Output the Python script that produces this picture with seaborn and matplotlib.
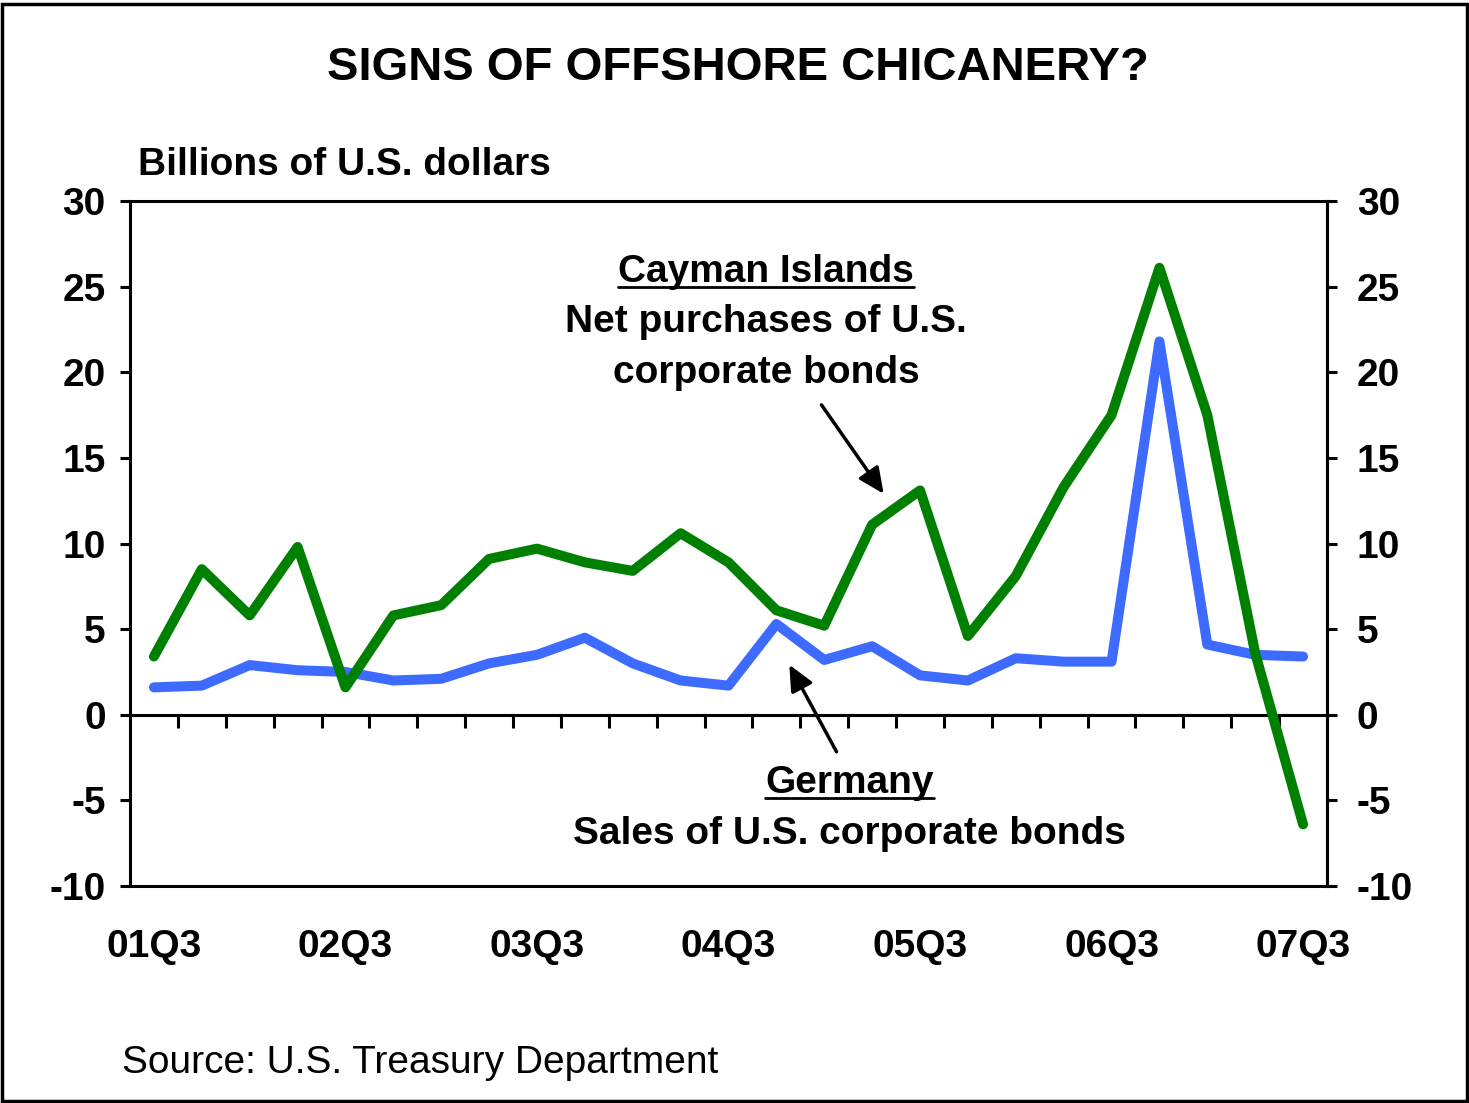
import numpy as np
import pandas as pd
import matplotlib
matplotlib.use("Agg")
import matplotlib.pyplot as plt
import seaborn as sns
from matplotlib.patches import Rectangle
from matplotlib.lines import Line2D

# ---- data ----
quarters = ["01Q3", "01Q4", "02Q1", "02Q2", "02Q3", "02Q4", "03Q1", "03Q2", "03Q3",
            "03Q4", "04Q1", "04Q2", "04Q3", "04Q4", "05Q1", "05Q2", "05Q3", "05Q4",
            "06Q1", "06Q2", "06Q3", "06Q4", "07Q1", "07Q2", "07Q3"]
cayman = [3.4, 8.5, 5.8, 9.8, 1.6, 5.8, 6.4, 9.1, 9.7, 8.9, 8.4, 10.6, 8.9, 6.1,
          5.2, 11.1, 13.1, 4.6, 8.1, 13.3, 17.5, 26.1, 17.5, 3.6, -6.4]
germany = [1.6, 1.7, 2.9, 2.6, 2.5, 2.0, 2.1, 3.0, 3.5, 4.5, 3.0, 2.0, 1.7, 5.3,
           3.2, 4.0, 2.3, 2.0, 3.3, 3.1, 3.1, 21.8, 4.1, 3.5, 3.4]
xtick_labels = ["01Q3", "02Q3", "03Q3", "04Q3", "05Q3", "06Q3", "07Q3"]
yticks = [-10, -5, 0, 5, 10, 15, 20, 25, 30]

df = pd.DataFrame({"idx": np.arange(len(quarters)), "quarter": quarters,
                   "Cayman Islands": cayman, "Germany": germany})

# ---- style ----
sns.set_theme(style="white")
plt.rcParams["font.family"] = ["Liberation Sans", "DejaVu Sans"]
for k in ["text.color", "axes.labelcolor", "xtick.color", "ytick.color", "axes.edgecolor"]:
    plt.rcParams[k] = "black"

W, H = 1469, 1103
fig = plt.figure(figsize=(W / 100, H / 100), dpi=100)
ax = fig.add_axes([130 / W, 1 - 886 / H, (1327 - 130) / W, (886 - 201) / H])

GREEN = "#008000"
BLUE = "#3D6BFF"
lw = 7.2
sns.lineplot(data=df, x="idx", y="Germany", ax=ax, color=BLUE, linewidth=lw,
             solid_capstyle="round", solid_joinstyle="round")
sns.lineplot(data=df, x="idx", y="Cayman Islands", ax=ax, color=GREEN, linewidth=lw,
             solid_capstyle="round", solid_joinstyle="round")

ax.set_xlim(-0.5, 24.5)
ax.set_ylim(-10, 30)
ax.set_xlabel("")
ax.set_ylabel("")
ax.grid(False)

for s in ax.spines.values():
    s.set_visible(True)
    s.set_color("black")
    s.set_linewidth(2.2)

FS = 28
# x labels (no tick marks on bottom spine)
xpos = [quarters.index(q) for q in xtick_labels]
ax.set_xticks(xpos)
ax.set_xticklabels(xtick_labels, fontsize=FS, fontweight="bold", color="black")
ax.tick_params(axis="x", length=0, pad=31)

# left y ticks
ax.set_yticks(yticks)
ax.set_yticklabels([str(v) for v in yticks], fontsize=FS, fontweight="bold", color="black")
ax.tick_params(axis="y", direction="out", length=7.5, width=2.2, color="black",
               left=True, right=False, labelleft=True, labelright=False, pad=10)

# right y ticks
rax = ax.secondary_yaxis("right")
rax.set_yticks(yticks)
rax.set_yticklabels([str(v) for v in yticks], fontsize=FS, fontweight="bold", color="black")
rax.tick_params(axis="y", direction="out", length=7.5, width=2.2, color="black", pad=14)
for s in rax.spines.values():
    s.set_linewidth(2.2)
    s.set_color("black")

# zero line with downward ticks between quarters
zero_ax = ax.secondary_xaxis((0 - (-10)) / 40)
zero_ax.set_xticks(np.arange(0.5, 24, 1.0))
zero_ax.tick_params(axis="x", direction="out", length=9, width=2.2, color="black",
                    labelbottom=False, labeltop=False)
zero_ax.xaxis.set_ticklabels([])
for s in zero_ax.spines.values():
    s.set_linewidth(2.2)
    s.set_color("black")

# ---- annotations ----
def px2data(px, py):
    return ((px - 155) / 47.7, (715 - py) / 17.13)

fig.canvas.draw()
renderer = fig.canvas.get_renderer()

def underlined(px, py, txt):
    x, y = px2data(px, py)
    t = ax.text(x, y, txt, fontsize=FS, fontweight="bold", ha="center", va="center")
    bb = t.get_window_extent(renderer=renderer)
    yline = (bb.y0 + 3) / H
    fig.add_artist(Line2D([bb.x0 / W, bb.x1 / W], [yline, yline],
                          transform=fig.transFigure, color="black", lw=2.0))

def plain(px, py, txt):
    x, y = px2data(px, py)
    ax.text(x, y, txt, fontsize=FS, fontweight="bold", ha="center", va="center")

underlined(765, 272, "Cayman Islands")
plain(765, 322, "Net purchases of U.S.")
plain(765, 373, "corporate bonds")
underlined(848, 783, "Germany")
plain(848, 834, "Sales of U.S. corporate bonds")

arrowprops = dict(arrowstyle="-|>,head_length=1.3,head_width=0.6", color="black",
                  lw=2.5, shrinkA=0, shrinkB=0)
ax.annotate("", xy=px2data(882, 494), xytext=px2data(820, 405), arrowprops=arrowprops)
ax.annotate("", xy=px2data(788, 665), xytext=px2data(835, 752), arrowprops=arrowprops)

# ---- titles / notes ----
fig.text(737.5 / W, 1 - 68 / H, "SIGNS OF OFFSHORE CHICANERY?", ha="center",
         va="center", fontsize=34, fontweight="bold")
fig.text(138 / W, 1 - 165 / H, "Billions of U.S. dollars", ha="left", va="center",
         fontsize=28, fontweight="bold")
fig.text(122 / W, 1 - 1063 / H, "Source: U.S. Treasury Department", ha="left",
         va="center", fontsize=28)

# outer frame
fig.add_artist(Rectangle((2 / W, 2 / H), 1 - 4 / W, 1 - 6 / H, transform=fig.transFigure,
                         fill=False, edgecolor="black", lw=2.5))

fig.savefig("out.png", dpi=100, facecolor="white")
